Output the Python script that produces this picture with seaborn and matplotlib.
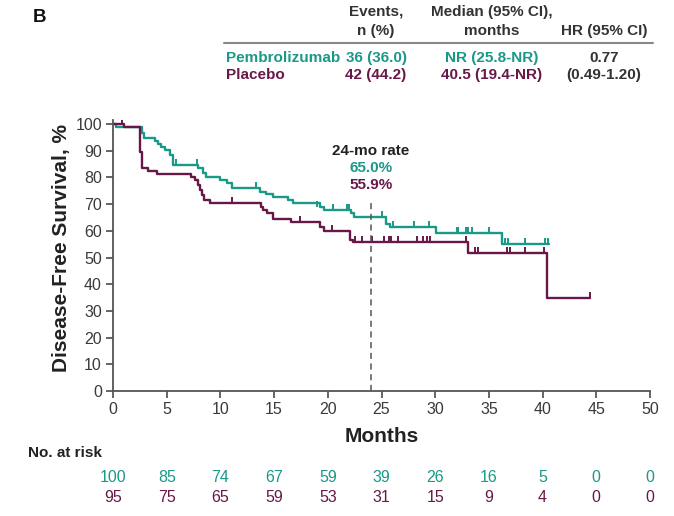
import matplotlib
matplotlib.use("Agg")
import matplotlib.pyplot as plt
import seaborn as sns
import pandas as pd

# ---------------- data ----------------
pem_t = [0, 0.3, 2.7, 2.9, 3.9, 4.2, 4.5, 4.8, 5.3, 5.6, 7.9, 8.4, 8.7, 10.0, 10.6, 11.05,
         13.7, 14.2, 14.9, 16.3, 16.8, 19.3, 19.6, 22.2, 22.4, 25.4, 25.8, 30.1, 36.2, 40.6]
pem_s = [100, 98.9, 96.5, 94.6, 93.6, 92.4, 91.5, 90.3, 88.4, 84.6, 83.5, 81.6, 80.3, 79.0, 77.8, 75.9,
         74.7, 73.6, 72.5, 71.5, 70.5, 69.0, 67.8, 66.5, 65.0, 62.5, 61.3, 59.0, 55.1, 55.1]
pla_t = [0, 1.0, 2.5, 2.7, 3.3, 4.1, 7.3, 7.6, 7.9, 8.1, 8.3, 8.5, 9.0, 13.8, 14.0, 14.3, 14.9,
         16.6, 19.3, 19.6, 22.1, 22.3, 33.1, 40.4, 44.4]
pla_s = [100, 98.9, 89.6, 83.4, 82.4, 81.1, 80.3, 79.0, 77.2, 75.3, 73.4, 71.5, 70.5, 69.0, 67.8, 66.5, 64.6,
         63.4, 61.5, 60.0, 56.6, 55.9, 51.8, 34.7, 34.7]
pem_cens_t = [5.9, 7.8, 13.3, 19.0, 20.5, 21.8, 22.0, 25.0, 26.1, 28.0, 29.4, 32.0, 32.1, 32.9, 33.1,
              33.4, 35.0, 36.5, 36.8, 38.4, 40.2, 40.5]
pem_cens_s = [84.6, 84.6, 75.9, 69.0, 67.8, 67.8, 67.8, 65.0, 61.3, 61.3, 61.3, 59.0, 59.0, 59.0, 59.0,
              59.0, 59.0, 55.1, 55.1, 55.1, 55.1, 55.1]
pla_cens_t = [0.8, 11.1, 17.4, 20.4, 22.5, 23.2, 24.1, 25.2, 25.7, 25.9, 26.5, 28.3, 28.9, 29.2, 29.5,
              32.9, 33.7, 34.0, 36.7, 37.0, 38.4, 40.1, 44.4]
pla_cens_s = [100, 70.5, 63.4, 60.0, 55.9, 55.9, 55.9, 55.9, 55.9, 55.9, 55.9, 55.9, 55.9, 55.9, 55.9,
              55.9, 51.8, 51.8, 51.8, 51.8, 51.8, 51.8, 34.7]
risk_months = [0, 5, 10, 15, 20, 25, 30, 35, 40, 45, 50]
risk_pem = [100, 85, 74, 67, 59, 39, 26, 16, 5, 0, 0]
risk_pla = [95, 75, 65, 59, 53, 31, 15, 9, 4, 0, 0]
groups = ["Pembrolizumab", "Placebo"]
events = ["36 (36.0)", "42 (44.2)"]
medians = ["NR (25.8-NR)", "40.5 (19.4-NR)"]
hr_lines = ["0.77", "(0.49-1.20)"]
rate_24 = ["65.0%", "55.9%"]

TEAL = "#1a9888"
PURPLE = "#681848"
TXT = "#3a3a3a"

sns.set_theme(style="ticks")
plt.rcParams["font.family"] = ["Liberation Sans", "DejaVu Sans"]

fig = plt.figure(figsize=(6.74, 5.16), dpi=100)
W, H = 674, 516
ymax = 101.5
ax = fig.add_axes([113 / W, 1 - 391 / H, 537 / W, 267 * ymax / 100 / H])

curves = pd.concat([
    pd.DataFrame({"Months": pem_t, "Surv": pem_s, "Arm": groups[0]}),
    pd.DataFrame({"Months": pla_t, "Surv": pla_s, "Arm": groups[1]}),
], ignore_index=True)
cens = pd.concat([
    pd.DataFrame({"Months": pem_cens_t, "Surv": pem_cens_s, "Arm": groups[0]}),
    pd.DataFrame({"Months": pla_cens_t, "Surv": pla_cens_s, "Arm": groups[1]}),
], ignore_index=True)
pal = {groups[0]: TEAL, groups[1]: PURPLE}

sns.lineplot(data=curves, x="Months", y="Surv", hue="Arm", palette=pal, estimator=None,
             sort=False, drawstyle="steps-post", linewidth=1.7, legend=False, ax=ax)
for arm in groups:
    sub = cens[cens["Arm"] == arm]
    ax.plot(sub["Months"], sub["Surv"], ls="none", marker=2, ms=4, mew=1.4, color=pal[arm])

ax.set_xlim(0, 50)
ax.set_ylim(0, ymax)
ax.set_xticks(range(0, 51, 5))
ax.set_yticks(range(0, 101, 10))
ax.tick_params(axis="both", labelsize=11.5, colors=TXT, length=5, width=1.1, direction="out", pad=3)
for sp in ["top", "right"]:
    ax.spines[sp].set_visible(False)
for sp in ["left", "bottom"]:
    ax.spines[sp].set_color("#555555")
    ax.spines[sp].set_linewidth(1.3)
ax.set_xlabel("Months", fontsize=15, fontweight="bold", color="#222222", labelpad=7)
ax.set_ylabel("Disease-Free Survival, %", fontsize=15, fontweight="bold", color="#222222")
ax.yaxis.set_label_coords(-42 / 537, (391 - 248) / (267 * ymax / 100))

# 24-month dashed line
ax.plot([24, 24], [0, 72], ls=(0, (4, 3)), color="#555555", lw=1.1)
ax.text(24, 90.0, "24-mo rate", ha="center", va="center", fontsize=11, fontweight="bold", color="#222222")
ax.text(24, 83.5, rate_24[0], ha="center", va="center", fontsize=11, fontweight="bold", color=TEAL)
ax.text(24, 77.0, rate_24[1], ha="center", va="center", fontsize=11, fontweight="bold", color=PURPLE)

# header table
def ft(x, y, s, **kw):
    fig.text(x / W, 1 - y / H, s, **kw)

ft(39, 18, "B", fontsize=13.5, fontweight="bold", ha="center", va="center", color="#111111")
hdr = dict(fontsize=11, fontweight="bold", ha="center", va="center", color="#333333")
ft(376, 12, "Events,", **hdr)
ft(376, 31, "n (%)", **hdr)
ft(492, 12, "Median (95% CI),", **hdr)
ft(492, 31, "months", **hdr)
ft(604, 31, "HR (95% CI)", **hdr)
fig.add_artist(plt.Line2D([224 / W, 653 / W], [1 - 43 / H, 1 - 43 / H], color="#888888", lw=1.5))
rows_y = [58, 75]
cols = [TEAL, PURPLE]
for i in range(2):
    ft(226, rows_y[i], groups[i], fontsize=11, fontweight="bold", ha="left", va="center", color=cols[i])
    ft(376, rows_y[i], events[i], fontsize=11, fontweight="bold", ha="center", va="center", color=cols[i])
    ft(492, rows_y[i], medians[i], fontsize=11, fontweight="bold", ha="center", va="center", color=cols[i])
    ft(604, rows_y[i], hr_lines[i], fontsize=11, fontweight="bold", ha="center", va="center", color="#333333")

# number at risk
ft(28, 453, "No. at risk", fontsize=11, fontweight="bold", ha="left", va="center", color="#222222")
for m, a, b in zip(risk_months, risk_pem, risk_pla):
    xp = 113 + 537 * m / 50
    ft(xp, 478, str(a), fontsize=11.5, ha="center", va="center", color=TEAL)
    ft(xp, 498, str(b), fontsize=11.5, ha="center", va="center", color=PURPLE)

fig.savefig("out.png", dpi=100, facecolor="white")
